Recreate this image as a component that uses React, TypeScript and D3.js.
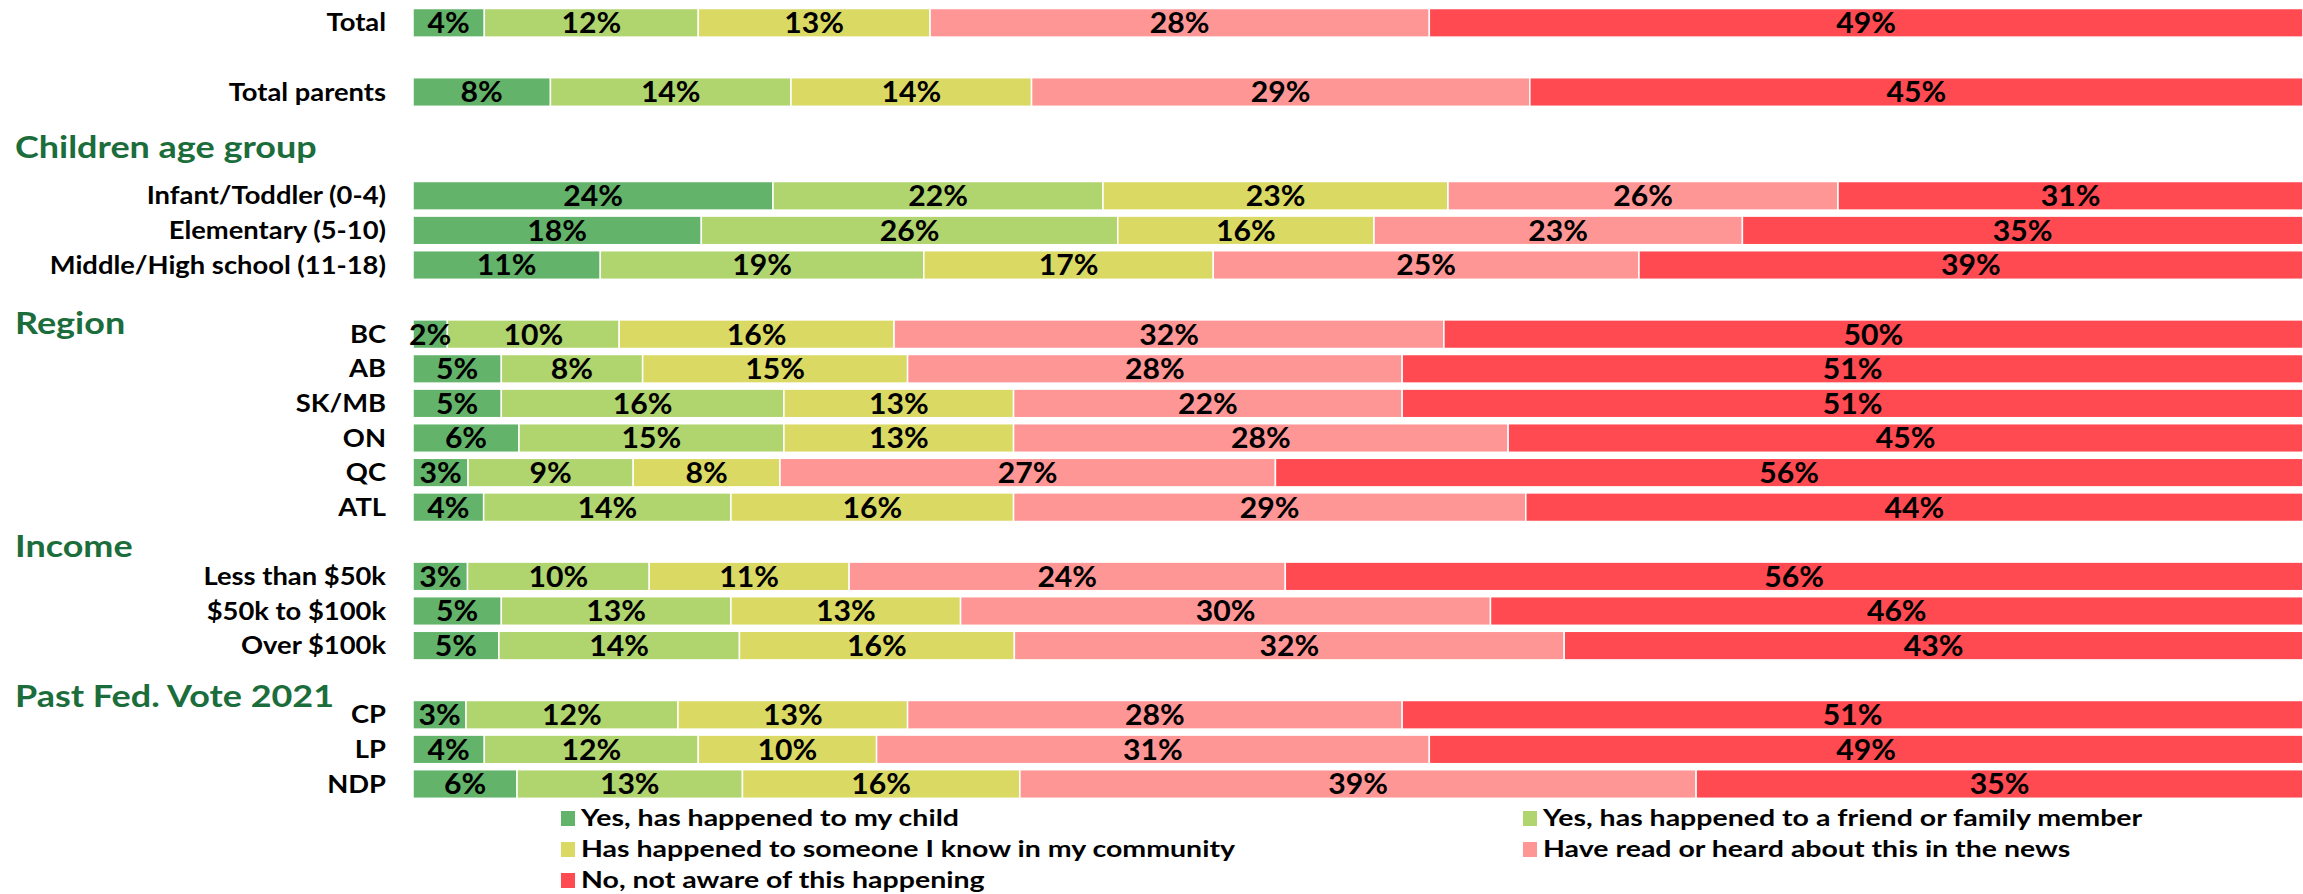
import React from "react";
import * as d3 from "d3";

const categories = [
  "Total",
  "Total parents",
  "Infant/Toddler (0-4)",
  "Elementary (5-10)",
  "Middle/High school (11-18)",
  "BC",
  "AB",
  "SK/MB",
  "ON",
  "QC",
  "ATL",
  "Less than $50k",
  "$50k to $100k",
  "Over $100k",
  "CP",
  "LP",
  "NDP",
];

// row order including spacer rows
const rowOrder = [
  "Total", "_g1", "Total parents", "_g2", "_g3",
  "Infant/Toddler (0-4)", "Elementary (5-10)", "Middle/High school (11-18)", "_g4",
  "BC", "AB", "SK/MB", "ON", "QC", "ATL", "_g5",
  "Less than $50k", "$50k to $100k", "Over $100k", "_g6",
  "CP", "LP", "NDP",
];

const groupHeaders = ["Children age group", "Region", "Income", "Past Fed. Vote 2021"];
const groupAnchors = ["_g3", "_g4", "_g5", "_g6"];
const headerOffsets = [-14, 23, 4, 16];

const seriesNames = [
  "Yes, has happened to my child",
  "Yes, has happened to a friend or family member",
  "Has happened to someone I know in my community",
  "Have read or heard about this in the news",
  "No, not aware of this happening",
];

const yesChild = [4, 8, 24, 18, 11, 2, 5, 5, 6, 3, 4, 3, 5, 5, 3, 4, 6];
const friendFamily = [12, 14, 22, 26, 19, 10, 8, 16, 15, 9, 14, 10, 13, 14, 12, 12, 13];
const community = [13, 14, 23, 16, 17, 16, 15, 13, 13, 8, 16, 11, 13, 16, 13, 10, 16];
const news = [28, 29, 26, 23, 25, 32, 28, 22, 28, 27, 29, 24, 30, 32, 28, 31, 39];
const notAware = [49, 45, 31, 35, 39, 50, 51, 51, 45, 56, 44, 56, 46, 43, 51, 49, 35];

const colors = ["#63b46a", "#b0d46e", "#dad964", "#ff9696", "#ff4a51"];

const W = 2303;
const H = 894;
const FONT = "Lato, 'Open Sans', sans-serif";

function SText(props: {
  x: number; y: number; sx: number; size: number; anchor?: string; fill?: string; children: any;
}) {
  const { x, y, sx, size, anchor = "start", fill = "#000", children } = props;
  return (
    <text transform={`translate(${x},${y}) scale(${sx},1)`} dy="0.36em" textAnchor={anchor}
      fontFamily={FONT} fontWeight={700} fontSize={size} fill={fill}>
      {children}
    </text>
  );
}

export default function App() {
  const keys = ["s0", "s1", "s2", "s3", "s4"];
  const series = [yesChild, friendFamily, community, news, notAware];
  const table = categories.map((c, i) => {
    const row: any = { cat: c };
    keys.forEach((k, j) => (row[k] = series[j][i]));
    return row;
  });
  const stacked = d3.stack().keys(keys).offset(d3.stackOffsetExpand)(table as any);

  const x = d3.scaleLinear().domain([0, 1]).range([413, 2303]);
  const y = d3.scaleBand().domain(rowOrder).range([8.5, 798.3]).paddingInner(0.173).paddingOuter(0);
  const bw = y.bandwidth();

  return (
    <svg width={W} height={H} style={{ position: "absolute", left: 0, top: 0, background: "#fff" }}>
      <rect x={0} y={0} width={W} height={H} fill="#fff" />
      {stacked.map((s, j) => (
        <g key={j}>
          {s.map((d: any, i: number) => {
            const x0 = x(d[0]);
            const x1 = x(d[1]);
            const yy = y(categories[i])!;
            return (
              <rect key={i} x={x0} y={yy} width={x1 - x0} height={bw} fill={colors[j]} stroke="#fff" strokeWidth={1.5} />
            );
          })}
        </g>
      ))}
      {stacked.map((s, j) => (
        <g key={"l" + j}>
          {s.map((d: any, i: number) => {
            const x0 = x(d[0]);
            const x1 = Math.min(x(d[1]), W);
            const yy = y(categories[i])! + bw / 2;
            return (
              <SText key={i} x={(x0 + x1) / 2} y={yy} sx={1.04} size={29} anchor="middle">
                {series[j][i]}%
              </SText>
            );
          })}
        </g>
      ))}
      {categories.map((c) => (
        <SText key={c} x={386} y={y(c)! + bw / 2} sx={1.14} size={24} anchor="end">
          {c}
        </SText>
      ))}
      {groupHeaders.map((h, i) => (
        <SText key={h} x={15} y={y(groupAnchors[i])! + bw / 2 + headerOffsets[i]} sx={1.16} size={31} fill="#1b6d3b">
          {h}
        </SText>
      ))}
      {seriesNames.map((n, i) => {
        const col = i % 2;
        const row = Math.floor(i / 2);
        const lx = col === 0 ? 561 : 1523;
        const ly = 818 + row * 31;
        return (
          <g key={n}>
            <rect x={lx} y={ly - 7} width={14} height={15} fill={colors[i]} />
            <SText x={lx + 20} y={ly} sx={1.24} size={23}>
              {n}
            </SText>
          </g>
        );
      })}
    </svg>
  );
}
